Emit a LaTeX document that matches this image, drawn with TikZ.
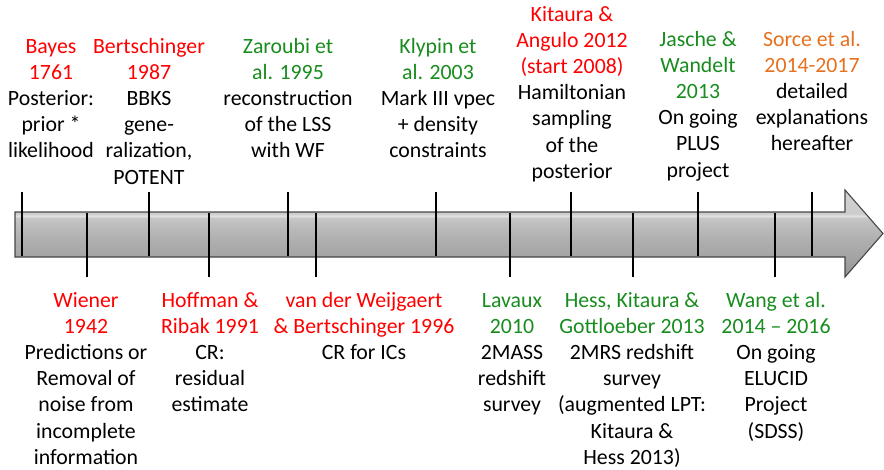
\documentclass[tikz,border=0pt]{standalone}
\usepackage{fontspec}
\setmainfont{Carlito}
\definecolor{tred}{RGB}{255,0,0}
\definecolor{tgreen}{RGB}{24,140,30}
\definecolor{torange}{RGB}{230,112,30}
\definecolor{arrline}{RGB}{70,70,70}
\newcommand\rd[1]{\textcolor{tred}{#1}}
\newcommand\gn[1]{\textcolor{tgreen}{#1}}
\newcommand\og[1]{\textcolor{torange}{#1}}
\pgfdeclareverticalshading{arrowshade}{100bp}{%
  rgb(0bp)=(0.58,0.58,0.58);
  rgb(25bp)=(0.58,0.58,0.58);
  rgb(36bp)=(0.64,0.64,0.64);
  rgb(45bp)=(0.68,0.68,0.68);
  rgb(55bp)=(0.74,0.74,0.74);
  rgb(59bp)=(0.78,0.78,0.78);
  rgb(60bp)=(0.88,0.88,0.88);
  rgb(61.5bp)=(0.80,0.80,0.80);
  rgb(75bp)=(0.83,0.83,0.83);
  rgb(100bp)=(0.83,0.83,0.83)}
\begin{document}
\begin{tikzpicture}[x=1pt,y=-1pt,
  blk/.style={align=center, inner sep=0pt, anchor=base,
    font=\fontsize{21.8}{26.2}\selectfont},
  tick/.style={line width=2.2pt, black},
  arrowbody/.style={shading=arrowshade, draw=arrline, line width=1.1pt, line join=miter}]
\useasboundingbox (0,0) rectangle (884,469);

% arrow
\path[arrowbody] (15,212) -- (845,212) -- (845,190) -- (883,233.5)
  -- (845,277) -- (845,257) -- (15,257) -- cycle;

% ticks above
\foreach \n/\x in {a/22, b/149, c/288, d/436, e/571, f/698, g/812}{
  \coordinate (up\n1) at (\x,192);
  \coordinate (up\n2) at (\x,256);
  \draw[tick] (up\n1) -- (up\n2);
}
% ticks below
\foreach \n/\x in {a/87, b/209, c/316, d/510, e/633, f/775}{
  \coordinate (dn\n1) at (\x,213);
  \coordinate (dn\n2) at (\x,277);
  \draw[tick] (dn\n1) -- (dn\n2);
}

% upper texts (anchor = baseline of the last line)
\node[blk] (bayes) at (51,{53+4*26.2}) {\rd{Bayes}\\\rd{1761}\\Posterior:\\prior *\\likelihood};
\node[blk] (bert) at (149,{53+5*26.2}) {\rd{Bertschinger}\\\rd{1987}\\BBKS\\gene-\\ralization,\\POTENT};
\node[blk] (zar) at (288,{53+4*26.2}) {\gn{Zaroubi et}\\\gn{al. 1995}\\reconstruction\\of the LSS\\with WF};
\node[blk] (kly) at (438,{53+4*26.2}) {\gn{Klypin et}\\\gn{al. 2003}\\Mark III vpec\\+ density\\constraints};
\node[blk] (kit) at (572,{21+6*26.2}) {\rd{Kitaura \&}\\\rd{Angulo 2012}\\\rd{(start 2008)}\\Hamiltonian\\sampling\\of the\\posterior};
\node[blk] (jas) at (698,{46+5*26.2}) {\gn{Jasche \&}\\\gn{Wandelt}\\\gn{2013}\\On going\\PLUS\\project};
\node[blk] (sor) at (812,{46+4*26.2}) {\og{Sorce et al.}\\\og{2014-2017}\\detailed\\explanations\\hereafter};

% lower texts
\node[blk] (wie) at (86,{307+6*26.2}) {\rd{Wiener}\\\rd{1942}\\Predictions or\\Removal of\\noise from\\incomplete\\information};
\node[blk] (hof) at (210,{307+4*26.2}) {\rd{Hoffman \&}\\\rd{Ribak 1991}\\CR:\\residual\\estimate};
\node[blk] (vdw) at (364,{307+2*26.2}) {\rd{van der Weijgaert}\\\rd{\& Bertschinger 1996}\\CR for ICs};
\node[blk] (lav) at (512,{307+4*26.2}) {\gn{Lavaux}\\\gn{2010}\\2MASS\\redshift\\survey};
\node[blk] (hes) at (632,{307+6*26.2}) {\gn{Hess, Kitaura \&}\\\gn{Gottloeber 2013}\\2MRS redshift\\survey\\(augmented LPT:\\Kitaura \&\\Hess 2013)};
\node[blk] (wan) at (776,{307+5*26.2}) {\gn{Wang et al.}\\\gn{2014 – 2016}\\On going\\ELUCID\\Project\\(SDSS)};
\end{tikzpicture}
\end{document}
